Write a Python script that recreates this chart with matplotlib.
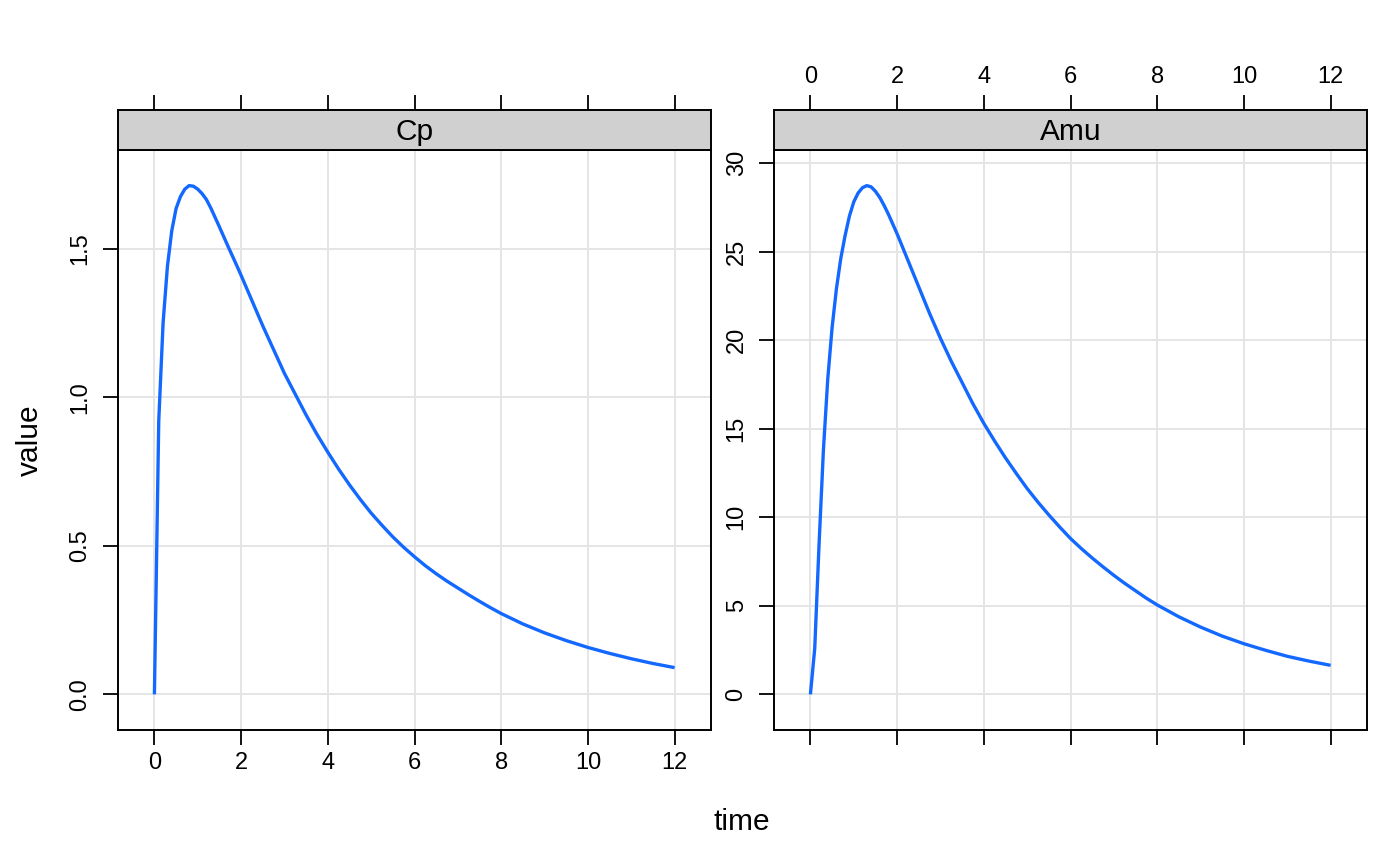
import matplotlib
matplotlib.use('Agg')
import matplotlib.pyplot as plt

# ---- data ----
panel_names = ["Cp", "Amu"]

time_cp = [0, 0.1, 0.2, 0.3, 0.4, 0.5, 0.6, 0.7, 0.8, 0.9, 1.0, 1.1, 1.2, 1.3, 1.4, 1.5,
           1.6, 1.7, 1.8, 1.9, 2.0, 2.25, 2.5, 2.75, 3.0, 3.25, 3.5, 3.75, 4.0, 4.25,
           4.5, 4.75, 5.0, 5.25, 5.5, 5.75, 6.0, 6.25, 6.5, 6.75, 7.0, 7.25, 7.5, 7.75,
           8.0, 8.5, 9.0, 9.5, 10.0, 10.5, 11.0, 11.5, 12.0]
cp = [0, 0.92, 1.25, 1.44, 1.56, 1.635, 1.675, 1.70, 1.712, 1.71, 1.70, 1.685, 1.665,
      1.637, 1.605, 1.573, 1.54, 1.507, 1.475, 1.443, 1.41, 1.325, 1.24, 1.16, 1.08,
      1.01, 0.94, 0.875, 0.815, 0.758, 0.705, 0.656, 0.61, 0.569, 0.53, 0.495, 0.463,
      0.433, 0.406, 0.381, 0.358, 0.335, 0.313, 0.292, 0.272, 0.237, 0.207, 0.181,
      0.158, 0.138, 0.120, 0.104, 0.090]

time_amu = [0, 0.1, 0.2, 0.3, 0.4, 0.5, 0.6, 0.7, 0.8, 0.9, 1.0, 1.1, 1.2, 1.3, 1.4, 1.5,
            1.6, 1.7, 1.8, 1.9, 2.0, 2.25, 2.5, 2.75, 3.0, 3.25, 3.5, 3.75, 4.0, 4.25,
            4.5, 4.75, 5.0, 5.25, 5.5, 5.75, 6.0, 6.25, 6.5, 6.75, 7.0, 7.25, 7.5, 7.75,
            8.0, 8.5, 9.0, 9.5, 10.0, 10.5, 11.0, 11.5, 12.0]
amu = [0, 2.6, 8.5, 13.8, 17.8, 20.7, 22.9, 24.6, 25.9, 27.0, 27.8, 28.3, 28.6, 28.72,
       28.65, 28.4, 28.05, 27.6, 27.1, 26.55, 26.0, 24.5, 23.0, 21.5, 20.1, 18.8, 17.6,
       16.4, 15.3, 14.3, 13.35, 12.47, 11.62, 10.85, 10.13, 9.45, 8.8, 8.23, 7.7, 7.2,
       6.72, 6.27, 5.85, 5.43, 5.05, 4.38, 3.80, 3.29, 2.86, 2.49, 2.15, 1.88, 1.64]

x_ticks = [0, 2, 4, 6, 8, 10, 12]
cp_ticks = [0.0, 0.5, 1.0, 1.5]
cp_ticklabels = ["0.0", "0.5", "1.0", "1.5"]
amu_ticks = [0, 5, 10, 15, 20, 25, 30]
amu_ticklabels = ["0", "5", "10", "15", "20", "25", "30"]

# ---- styling ----
plt.rcParams['font.family'] = ['Liberation Sans', 'DejaVu Sans']
W, H = 1400, 865
LINE_COL = '#1268ff'
GRID_COL = '#e5e5e5'
STRIP_COL = '#d0d0d0'
TICK_FS = 17
STRIP_FS = 21.5
LAB_FS = 21.5
TICK_LEN = 11
TICK_PAD = 5

fig = plt.figure(figsize=(W / 100, H / 100), dpi=100)


def rect(x0, y0, x1, y1):
    return [x0 / W, 1 - y1 / H, (x1 - x0) / W, (y1 - y0) / H]


def padded(vals):
    lo, hi = min(vals), max(vals)
    p = 0.07 * (hi - lo)
    return lo - p, hi + p


panels = [
    dict(name=panel_names[0], t=time_cp, y=cp, yt=cp_ticks, ytl=cp_ticklabels,
         box=(118, 150, 711, 730), bottom_labels=True, top_labels=False),
    dict(name=panel_names[1], t=time_amu, y=amu, yt=amu_ticks, ytl=amu_ticklabels,
         box=(774, 150, 1367, 730), bottom_labels=False, top_labels=True),
]

for p in panels:
    x0, y0, x1, y1 = p['box']
    ax = fig.add_axes(rect(x0, y0, x1, y1))
    xl = padded(p['t'])
    yl = padded(p['y'])
    ax.set_xlim(xl)
    ax.set_ylim(yl)
    ax.set_xticks(x_ticks)
    ax.set_yticks(p['yt'])
    ax.set_yticklabels(p['ytl'], rotation=90, va='center')
    if not p['bottom_labels']:
        ax.set_xticklabels([])
    ax.grid(True, color=GRID_COL, lw=1.4)
    ax.set_axisbelow(True)
    ax.plot(p['t'], p['y'], color=LINE_COL, lw=2.4, solid_joinstyle='round',
            solid_capstyle='butt', zorder=3)
    ax.tick_params(axis='x', direction='out', length=TICK_LEN, width=1.3,
                   labelsize=TICK_FS, pad=TICK_PAD)
    ax.tick_params(axis='y', direction='out', length=TICK_LEN, width=1.3,
                   labelsize=TICK_FS, pad=TICK_PAD + 3)
    for s in ax.spines.values():
        s.set_linewidth(1.4)

    # strip
    sax = fig.add_axes(rect(x0, 110, x1, y0))
    sax.set_facecolor(STRIP_COL)
    sax.set_xlim(xl)
    sax.set_ylim(0, 1)
    sax.set_yticks([])
    sax.set_xticks(x_ticks)
    sax.xaxis.set_ticks_position('top')
    sax.xaxis.set_label_position('top')
    if not p['top_labels']:
        sax.set_xticklabels([])
    sax.tick_params(axis='x', direction='out', length=TICK_LEN, width=1.3,
                    labelsize=TICK_FS, pad=TICK_PAD)
    for s in sax.spines.values():
        s.set_linewidth(1.4)
    sax.text(0.5, 0.45, p['name'], transform=sax.transAxes, ha='center', va='center',
             fontsize=STRIP_FS)

fig.text(742 / W, 1 - 822 / H, "time", ha='center', va='center', fontsize=LAB_FS)
fig.text(30 / W, 1 - 440 / H, "value", ha='center', va='center', fontsize=LAB_FS,
         rotation=90)

fig.savefig("out.png", dpi=100, facecolor='white')
